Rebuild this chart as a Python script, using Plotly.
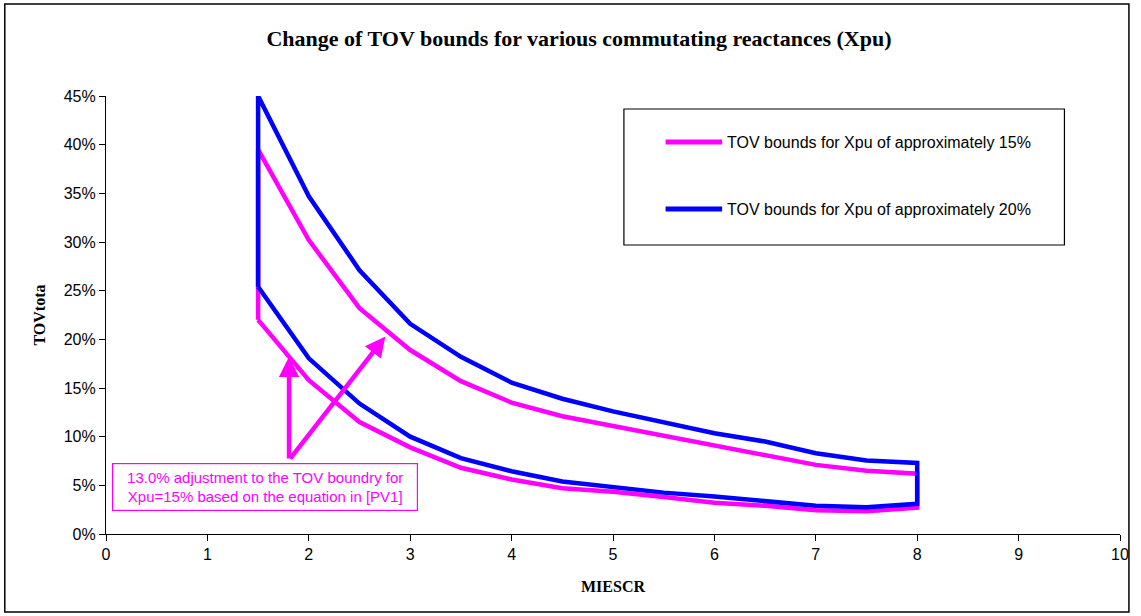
import plotly.graph_objects as go

# MIESCR values shared by every bound curve
miescr = [1.5, 2.0, 2.5, 3.0, 3.5, 4.0, 4.5, 5.0, 5.5, 6.0, 6.5, 7.0, 7.5, 8.0]

# TOV bounds (%) for Xpu of approximately 15%
x15_upper = [39.5, 30.2, 23.2, 18.9, 15.7, 13.5, 12.1, 11.0, 10.1, 9.0, 8.1, 7.1, 6.5, 6.2]
x15_lower = [22.0, 15.8, 11.5, 8.9, 6.8, 5.6, 4.7, 4.35, 3.8, 3.2, 2.9, 2.45, 2.35, 2.7]

# TOV bounds (%) for Xpu of approximately 20%
x20_upper = [45.0, 34.7, 27.1, 21.6, 18.2, 15.55, 13.9, 12.6, 11.5, 10.35, 9.5, 8.3, 7.55, 7.3]
x20_lower = [25.4, 18.05, 13.4, 10.0, 7.8, 6.45, 5.4, 4.85, 4.25, 3.85, 3.4, 2.9, 2.75, 3.1]

series_names = ["TOV bounds for Xpu of approximately 15%",
                "TOV bounds for Xpu of approximately 20%"]
series_colors = ["#FF00FF", "#0000FF"]

x_ticks = list(range(0, 11))
y_ticks = list(range(0, 50, 5))
y_tick_labels = [f"{v}%" for v in y_ticks]

# annotation: adjustment arrows (tail shared, two heads)
arrow_tail = (1.805, 7.6)
arrow_heads = [(1.805, 18.2), (2.755, 20.3)]
note_text = "13.0% adjustment to the TOV boundry for<br>Xpu=15% based on the equation in [PV1]"


def closed_band(lower, upper):
    """Lower curve left-to-right, then upper curve right-to-left, closed."""
    xs = miescr + miescr[::-1] + [miescr[0]]
    ys = lower + upper[::-1] + [lower[0]]
    return xs, ys


fig = go.Figure()
for lower, upper, name, color in [(x15_lower, x15_upper, series_names[0], series_colors[0]),
                                  (x20_lower, x20_upper, series_names[1], series_colors[1])]:
    bx, by = closed_band(lower, upper)
    fig.add_trace(go.Scatter(x=bx, y=by, mode="lines", name=name,
                             line=dict(color=color, width=4.5),
                             showlegend=False, hoverinfo="skip"))

W, H = 1141, 616
ml, mr, mt, mb = 106, 13, 96, 82
pw, ph = W - ml - mr, H - mt - mb


def px(xp):
    return (xp - ml) / pw


def py(yp):
    return (H - mb - yp) / ph


shapes = []
annotations = []

# outer chart frame
shapes.append(dict(type="rect", xref="paper", yref="paper",
                   x0=px(4), x1=px(1137), y0=py(612), y1=py(4),
                   line=dict(color="black", width=1.5)))

# legend box with line samples
shapes.append(dict(type="rect", xref="paper", yref="paper",
                   x0=px(628), x1=px(1072), y0=py(245), y1=py(109),
                   line=dict(color="black", width=1.2), fillcolor="white", layer="below"))
for i, (name, color) in enumerate(zip(series_names, series_colors)):
    yy = [142, 209][i]
    shapes.append(dict(type="line", xref="paper", yref="paper",
                       x0=px(670), x1=px(727), y0=py(yy), y1=py(yy),
                       line=dict(color=color, width=5)))
    annotations.append(dict(xref="paper", yref="paper", x=px(730), y=py(yy),
                            text=name, showarrow=False, xanchor="left", yanchor="middle",
                            font=dict(family="Liberation Sans, Arial", size=16, color="black")))

# arrows pointing from the note to the upper 15% bound
for hx, hy in arrow_heads:
    annotations.append(dict(x=hx, y=hy, ax=arrow_tail[0], ay=arrow_tail[1],
                            xref="x", yref="y", axref="x", ayref="y",
                            text="", showarrow=True, arrowhead=2, arrowsize=0.9,
                            arrowwidth=4.5, arrowcolor="#FF00FF"))

# note box
annotations.append(dict(x=1.566, y=4.88, xref="x", yref="y", text=note_text,
                        showarrow=False, align="center", width=300, height=42,
                        bgcolor="white", bordercolor="#FF00FF", borderwidth=1.2, borderpad=2,
                        font=dict(family="Liberation Sans, Arial", size=15, color="#FF00FF")))

fig.update_layout(
    width=W, height=H,
    margin=dict(l=ml, r=mr, t=mt, b=mb),
    paper_bgcolor="white", plot_bgcolor="white",
    title=dict(text="<b>Change of TOV bounds for various commutating reactances (Xpu)</b>",
               x=579 / W, xref="container", xanchor="center",
               y=1 - 38 / H, yref="container", yanchor="middle",
               font=dict(family="Liberation Serif, Times New Roman", size=22, color="black")),
    xaxis=dict(range=[0, 10], tickvals=x_ticks, showgrid=False, zeroline=False,
               showline=True, linecolor="black", linewidth=1.2,
               ticks="outside", ticklen=6, tickcolor="black",
               tickfont=dict(family="Liberation Sans, Arial", size=16, color="black"),
               title=dict(text="<b>MIESCR</b>", standoff=18,
                          font=dict(family="Liberation Serif, Times New Roman", size=16, color="black"))),
    yaxis=dict(range=[0, 45], tickvals=y_ticks, ticktext=y_tick_labels,
               showgrid=False, zeroline=False,
               showline=True, linecolor="black", linewidth=1.2,
               ticks="outside", ticklen=6, tickcolor="black",
               tickfont=dict(family="Liberation Sans, Arial", size=16, color="black"),
               title=dict(text="<b>TOVtota</b>", standoff=14,
                          font=dict(family="Liberation Serif, Times New Roman", size=16, color="black"))),
    shapes=shapes,
    annotations=annotations,
)

fig.write_html("out.html")
